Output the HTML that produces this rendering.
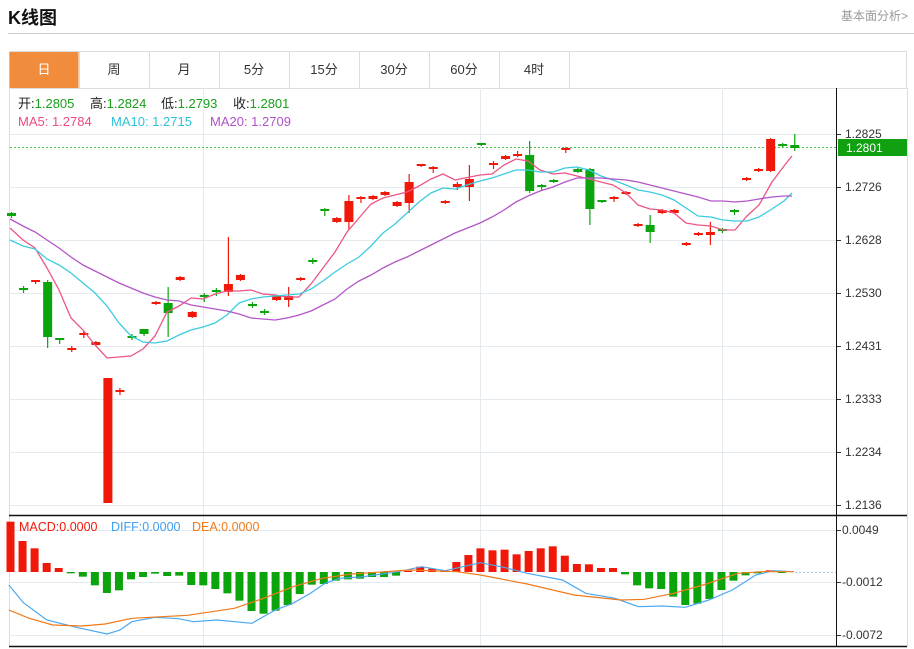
<!DOCTYPE html>
<html><head><meta charset="utf-8"><style>
body{margin:0;width:914px;height:649px;background:#fff;font-family:"Liberation Sans","Noto Sans CJK SC",sans-serif;overflow:hidden;position:relative}
.t{position:absolute;white-space:nowrap}
</style></head><body>
<div class="t" style="left:8px;top:4px;font-size:18px;font-weight:bold;color:#111">K线图</div>
<div class="t" style="right:6px;top:7px;font-size:12px;color:#999">基本面分析&gt;</div>
<div style="position:absolute;left:8px;top:33px;width:906px;height:1px;background:#ccc"></div>
<svg id="s" width="914" height="649" style="position:absolute;left:0;top:0" xmlns="http://www.w3.org/2000/svg" font-family="Liberation Sans, Noto Sans CJK SC, sans-serif"></svg>
<script>
var s=document.getElementById('s'),h='';
function L(x1,y1,x2,y2,c,w,d){h+='<line x1="'+x1+'" y1="'+y1+'" x2="'+x2+'" y2="'+y2+'" stroke="'+c+'" stroke-width="'+(w||1)+'"'+(d?' stroke-dasharray="'+d+'"':'')+'/>';}
function R(x,y,w,hh,c,st){h+='<rect x="'+x+'" y="'+y+'" width="'+w+'" height="'+hh+'" fill="'+c+'"'+(st?' stroke="'+st+'"':'')+'/>';}
function T(x,y,t,c,sz,a){h+='<text x="'+x+'" y="'+y+'" fill="'+c+'" font-size="'+(sz||12)+'"'+(a?' text-anchor="'+a+'"':'')+'>'+t+'</text>';}
R(9.5,51.5,897,37,'#fff','#ddd');
var tabs=['日','周','月','5分','15分','30分','60分','4时'];
for(var i=0;i<8;i++){var x=9+i*70;if(i==0)R(x+0.5,52,69,36,'#f28c3d');L(x+70.5,52,x+70.5,88,'#ddd');T(x+35,74,tabs[i],i==0?'#fff':'#333',13,'middle');}
L(9.5,88,9.5,647,'#ddd');L(907.5,88,907.5,647,'#ddd');
var py=[134,187,240,293,346,399,452,505],pl=['1.2825','1.2726','1.2628','1.2530','1.2431','1.2333','1.2234','1.2136'];
for(i=0;i<8;i++){L(10,py[i]+.5,836,py[i]+.5,'#e3eaf0');L(836,py[i]+.5,841,py[i]+.5,'#333');T(845,py[i]+4,pl[i],'#333',12);}
[203,480,722].forEach(function(x){L(x+.5,88,x+.5,515,'#e3eaf0');L(x+.5,516,x+.5,646,'#e3eaf0');});
[[530,'0.0049'],[582,'-0.0012'],[635,'-0.0072']].forEach(function(a){L(10,a[0]+.5,836,a[0]+.5,'#e3eaf0');L(836,a[0]+.5,841,a[0]+.5,'#333');T(842,a[0]+4,a[1],'#333',12);});
L(9,515.5,907,515.5,'#111',1.5);L(9,646.5,907,646.5,'#111',1.5);
L(836.5,88,836.5,647,'#111');
L(10,147.5,836,147.5,'#4fbf4f',1,'2,2');
R(838,139,69,17,'#10a010');T(846,152,'1.2801','#fff',12);
var G='#0ca40c',Rd='#f01808';
var c=[['g',213,216,212,218],['g',288,290,286,293],['r',280,282,280,284],['g',282,337,280,348],['g',338,340,338,344],['r',348,350,346,352],['r',333,335,331,338],['r',342,345,341,346],['r',378,503,378,503],['r',390,392,388,395],
['g',336,338,334,340],['g',329,334,329,336],['r',302,304,301,305],['g',303,313,287,337],['r',277,280,276,281],['r',312,317,311,318],['g',295,297,293,302],['g',290,292,288,296],['r',284,292,237,296],['r',275,280,274,281],
['g',304,306,302,308],['g',311,313,309,315],['r',296,300,295,301],['r',296,300,287,307],['r',278,280,277,281],['g',260,262,258,264],['g',209,211,208,216],['r',218,222,217,223],['r',201,222,195,230],['r',197,199,196,203],
['r',196,199,195,200],['r',192,195,191,196],['r',202,206,201,207],['r',182,203,174,213],['r',164,166,164,167],['r',167,169,166,173],['r',201,203,200,204],['r',184,187,182,190],['r',179,187,165,201],['g',143,145,143,146],
['r',163,165,161,169],['r',156,159,155,160],['r',154,156,151,157],['g',155,191,141,193],['g',185,187,184,190],['g',180,182,179,183],['r',148,150,147,153],['g',169,172,168,173],['g',169,209,168,225],['g',200,202,200,203],
['r',197,199,196,202],['r',192,194,191,195],['r',224,226,223,227],['g',225,232,215,243],['r',210,213,209,214],['r',210,213,209,214],['r',243,245,242,246],['r',233,235,232,236],['r',232,235,222,245],['g',229,231,228,233],
['g',210,212,209,215],['r',178,180,177,181],['r',169,171,168,172],['r',139,171,138,172],['g',144,146,143,147],['g',145,148,134,151]];
function cx(i){return 11.5+12.05*i;}
for(i=0;i<c.length;i++){var d=c[i],col=d[0]=='g'?G:Rd,x=cx(i);
L(x,d[3],x,d[4],col,1.2);R(x-4.5,d[1],9,Math.max(d[2]-d[1],2),col);}
function P(pts,col,w){h+='<polyline fill="none" stroke="'+col+'" stroke-width="'+(w||1.3)+'" points="'+pts.map(function(p){return p.join(',')}).join(' ')+'"/>';}
P([[10,228],[23,240],[35,248],[47,268],[59,290],[71,318],[83,330],[95,345],[107,358],[119,357],[131,356],[143,349],[155,336],[167,312],[179,306],[191,298],[203,299],[215,294],[227,291],[239,291],[251,290],[263,294],[275,295],[287,297],[299,297],[311,284],[323,268],[335,252],[347,232],[359,218],[371,204],[383,198],[395,195],[407,192],[419,186],[431,179],[443,174],[455,180],[470,177],[480,175],[492,174],[504,165],[516,159],[528,161],[540,170],[553,174],[565,173],[577,176],[589,179],[601,182],[613,185],[626,193],[638,205],[650,209],[662,210],[674,213],[686,223],[698,225],[711,226],[723,230],[735,230],[747,216],[759,205],[772,182],[784,166],[792,156]],'#ec5585');
P([[10,240],[23,246],[35,249],[47,259],[59,265],[71,273],[83,283],[95,293],[107,306],[119,323],[131,336],[143,342],[155,343],[167,341],[179,335],[191,330],[203,327],[215,323],[227,315],[239,303],[251,299],[263,297],[275,296],[287,295],[299,294],[311,289],[323,281],[335,272],[347,264],[359,257],[371,246],[383,233],[395,224],[407,213],[419,202],[431,193],[443,188],[455,189],[470,184],[480,181],[492,178],[504,174],[516,170],[528,170],[540,172],[553,172],[565,168],[577,167],[589,170],[601,176],[613,180],[626,185],[638,190],[650,192],[662,195],[674,200],[686,208],[698,216],[711,217],[723,220],[735,221],[747,221],[759,217],[772,209],[784,201],[792,193]],'#3ccbe0');
P([[10,219],[23,226],[35,232],[47,240],[59,248],[71,257],[83,265],[95,271],[107,277],[119,283],[131,288],[143,293],[155,297],[167,300],[179,301],[191,305],[203,307],[215,309],[227,311],[239,314],[251,318],[263,319],[275,320],[287,318],[299,315],[311,311],[323,305],[335,299],[347,289],[359,281],[371,275],[383,268],[395,262],[407,257],[419,251],[431,245],[443,239],[455,233],[470,227],[480,223],[492,217],[504,210],[516,202],[528,196],[540,191],[553,187],[565,182],[577,178],[589,178],[601,178],[613,179],[626,180],[638,182],[650,185],[662,188],[674,191],[686,194],[698,197],[711,201],[723,201],[735,202],[747,201],[759,199],[772,197],[784,196],[792,196]],'#b356c8');
L(795,572.5,836,572.5,'#9fd0e8',1,'2,2');
var bz=[35,93,115,159,174,190,200,226,249,241,208,201,191,198,197,225,226,237,250,272,303,311,302,285,252,224,222,212,208,206,201,201,197,
183,170,176,180,156,135,115,121,119,133,123,115,109,137,162,163,174,174,
193,226,235,237,260,285,281,267,240,212,196,190,181,185];
for(i=0;i<bz.length;i++){var y=510+bz[i]/3,x=cx(i)-1;
if(i<5||(i>=33&&i<51)||i==63){R(x-4,y,8,Math.max(572-y,1),Rd);}else{R(x-4,572,8,Math.max(y-572,1),G);}}
function Q(a,col){P(a.map(function(p){return [(p[0]/1.707).toFixed(1),(510+p[1]/3).toFixed(1)]}),col,1.2);}
Q([[15,225],[40,278],[80,330],[130,352],[183,372],[205,360],[225,335],[265,322],[305,326],[330,335],[370,330],[430,340],[470,300],[500,280],[530,250],[555,220],[580,205],[620,200],[680,185],[720,170],[760,182],[820,158],[860,172],[900,190],[960,210],[1000,250],[1050,265],[1090,290],[1130,288],[1170,292],[1210,270],[1250,240],[1290,195],[1320,182],[1355,185]],'#4aa8f0');
Q([[15,300],[50,325],[90,345],[140,348],[180,342],[225,325],[320,316],[400,295],[450,265],[500,230],[550,205],[600,192],[700,180],[780,185],[820,195],[900,222],[980,255],[1060,270],[1100,268],[1150,250],[1200,225],[1260,190],[1300,185],[1355,185]],'#f07a1a');
var gr='#19a019';
h+='<text y="108" font-size="13" fill="#222"><tspan x="18">开:</tspan><tspan fill="'+gr+'">1.2805</tspan><tspan x="90">高:</tspan><tspan fill="'+gr+'">1.2824</tspan><tspan x="161">低:</tspan><tspan fill="'+gr+'">1.2793</tspan><tspan x="233">收:</tspan><tspan fill="'+gr+'">1.2801</tspan></text>';
h+='<text y="126" font-size="13"><tspan x="18" fill="#ec4b7e">MA5: 1.2784</tspan><tspan fill="#2ec2dc" x="111">MA10: 1.2715</tspan><tspan fill="#b152c9" x="210">MA20: 1.2709</tspan></text>';
h+='<text x="19" y="531" font-size="12.5"><tspan fill="#f01808">MACD:0.0000</tspan><tspan fill="#3f9ff0" x="111">DIFF:0.0000</tspan><tspan fill="#f07a1a" x="192">DEA:0.0000</tspan></text>';
s.innerHTML=h;
</script>
</body></html>
